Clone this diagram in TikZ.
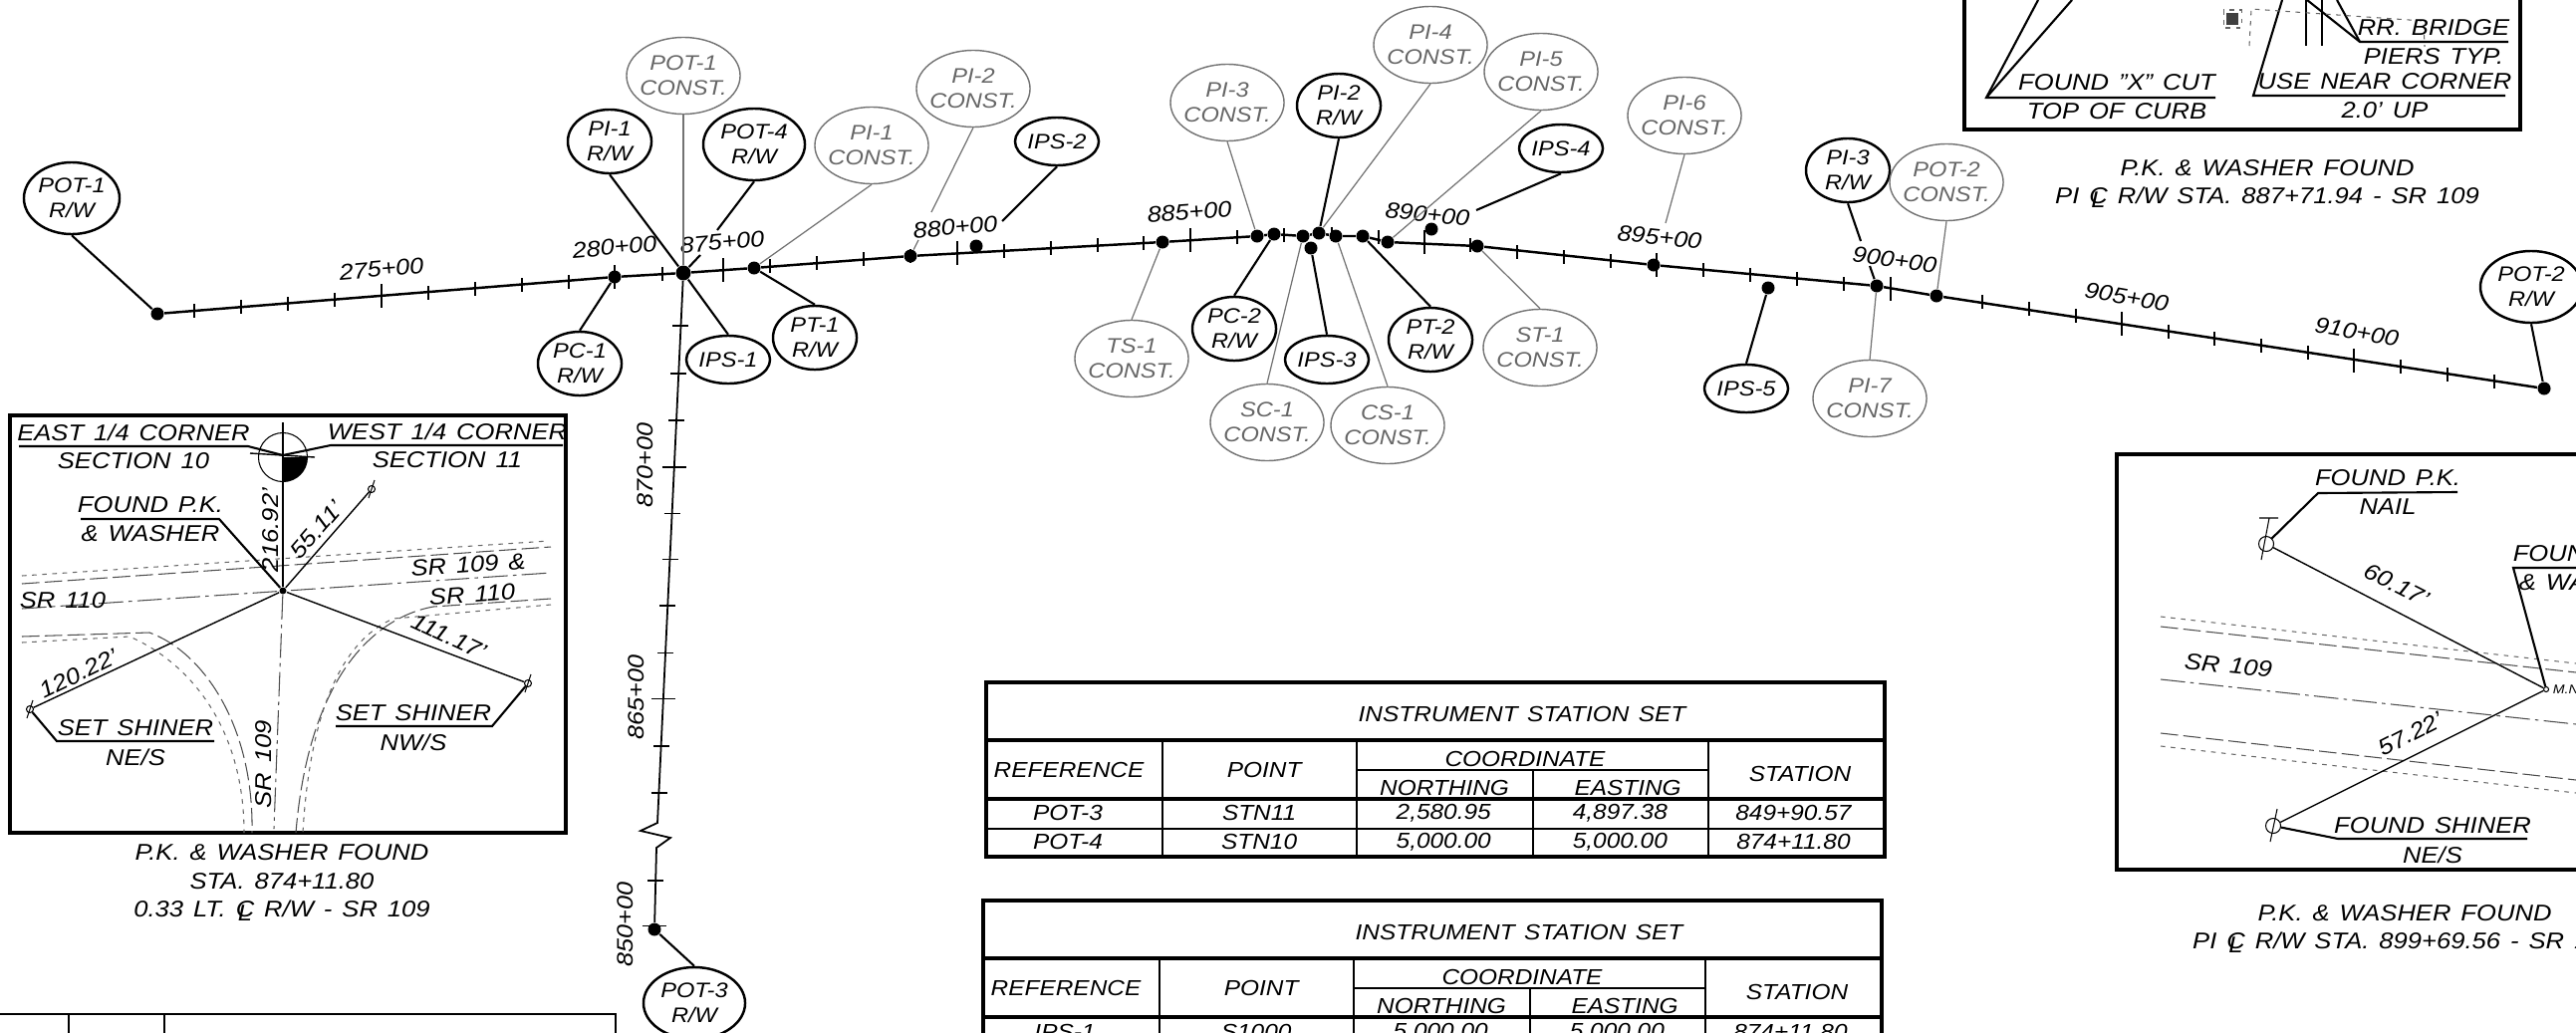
\documentclass[tikz,border=0pt]{standalone}
\usepackage{fontspec}
\setmainfont[FakeStretch=1.12,WordSpace=1.4]{Liberation Sans}
\usetikzlibrary{shapes.geometric,positioning}
\newcommand{\clmark}{\ooalign{C\cr\hfil\raisebox{-.3ex}{L}\hfil\cr}}

\begin{document}
\begin{tikzpicture}[x=0.01cm,y=-0.01cm,node distance=0.29cm,
    every node/.style={inner sep=0pt,align=center,font=\itshape\fontsize{6}{7.1}\selectfont},
    bubble/.style={draw,ellipse,inner sep=-7pt},
    rwbub/.style={bubble,line width=.7pt,minimum width=.84cm,minimum height=.64cm},
    potbub/.style={bubble,line width=.7pt,minimum width=1.02cm,minimum height=.72cm},
    ipsbub/.style={bubble,line width=.7pt,minimum width=.84cm,minimum height=.48cm},
    constbub/.style={bubble,draw=black!55,text=black!60,line width=.4pt,minimum width=1.14cm,minimum height=.77cm},
    stake/.style={circle,fill,minimum size=.13cm},
    leader/.style={line width=.6pt},
    constleader/.style={line width=.35pt,black!55},
    mainline/.style={line width=.7pt},
    staplus/.style={font=\itshape\fontsize{6.4}{7}\selectfont},
    boxtext/.style={font=\itshape\fontsize{6.5}{7.5}\selectfont},
    tabtext/.style={font=\itshape\fontsize{6.2}{7}\selectfont},
    roaddash/.style={line width=.3pt,black!70,dash pattern=on 5pt off 1.5pt},
    roaddot/.style={line width=.3pt,black!60,dash pattern=on 1.3pt off 1.6pt},
    roadcenter/.style={line width=.3pt,black!70,dash pattern=on 7pt off 1.5pt on 1pt off 1.5pt},
    shiner/.style={draw,circle,line width=.3pt,minimum size=.07cm},
    frame/.style={line width=1pt}]
      \useasboundingbox (0,0) rectangle (2586,1036);
      \clip (0,0) rectangle (2586,1036);

      % stakes on the line
      \node[stake] (dPOT1r) at (158,315) {};
      \node[stake] (d280) at (617,278) {};
      \node[stake,minimum size=.15cm] (d875) at (686,274) {};
      \node[stake] (dPT1) at (757,269) {};
      \node[stake] (dPI2c) at (914,257) {};
      \node[stake] (dIPS2) at (980,247) {};
      \node[stake] (dTS1) at (1167,243) {};
      \node[stake] (dPI3c) at (1262,237) {};
      \node[stake] (dPC2) at (1279,235) {};
      \node[stake] (dSC1) at (1308,237) {};
      \node[stake] (dPI2r) at (1324,234) {};
      \node[stake] (dCS1) at (1341,237) {};
      \node[stake] (dPT2) at (1368,237) {};
      \node[stake] (dPI5c) at (1393,243) {};
      \node[stake] (dST1) at (1483,247) {};
      \node[stake] (dPI6c) at (1660,266) {};
      \node[stake] (dPI3r) at (1884,287) {};
      \node[stake] (dPOT2c) at (1944,297) {};
      \node[stake] (dPOT2r) at (2554,390) {};
      \node[stake] (dIPS3) at (1316,249) {};
      \node[stake] (dIPS4) at (1437,230) {};
      \node[stake] (dIPS5) at (1775,289) {};
      \node[stake] (dPOT3r) at (657,933) {};

      \coordinate (zigA) at (660,826);
      \coordinate (zigB) at (643,834);
      \coordinate (zigC) at (673,841);
      \coordinate (zigD) at (659,851);

      \draw[mainline] (dPOT1r) -- (d280) -- (d875) -- (dPT1) -- (dPI2c) -- (dTS1) -- (dPI3c) -- (dPC2) -- (dSC1)
        -- (dPI2r) -- (dCS1) -- (dPT2) -- (dPI5c) -- (dST1) -- (dPI6c) -- (dPI3r) -- (dPOT2c) -- (dPOT2r);
      \draw[line width=.5pt] (d875) -- (zigA) -- (zigB) -- (zigC) -- (zigD) -- (dPOT3r);

      \foreach \x/\y in {195/312,242/308,289/305,336/301,430/294,477/290,524/286,571/283,665/275,
        773/267,820/264,867/260,914/257,1008/252,1055/249,1102/246,1148/244,1242/238,1289/236,1337/235,1384/238,
        1476/246,1523/253,1570/258,1617/262,1710/271,1757/276,1804/280,1851/285,
        1990/303,2037/310,2084/317,2177/333,2223/340,2270/347,2317/354,2410/368,2457/376,2504/383}
        \draw[line width=.4pt] (\x,\y-7) -- (\x,\y+7);
      \foreach \x/\y in {383/297,617/278,726/271,961/254,1195/241,1430/243,1663/266,1898/290,2130/325,2363/362}
        \draw[line width=.4pt] (\x,\y-12) -- (\x,\y+12);
      \foreach \x/\y in {683/327,681/375,679/422,674.7/515.6,672.7/561.5,670/608,668/655.6,664/749,661.7/796,658/884}
        \draw[line width=.4pt] (\x-8,\y) -- (\x+8,\y);
      \foreach \x/\y in {676.7/469,666/701.4,656.7/929.4}
        \draw[line width=.4pt] (\x-12,\y) -- (\x+12,\y);

      \node[staplus,rotate=5] (sta275) at (383,270) {275+00};
      \node[staplus,rotate=5] (sta280) at (617,248) {280+00};
      \node[staplus,rotate=5] (sta875) at (725,243) {875+00};
      \node[staplus,rotate=5] (sta880) at (959,228) {880+00};
      \node[staplus,rotate=4] (sta885) at (1194,213) {885+00};
      \node[staplus,rotate=-6] (sta890) at (1433,215) {890+00};
      \node[staplus,rotate=-6] (sta895) at (1666,238) {895+00};
      \node[staplus,rotate=-8] (sta900) at (1902,261) {900+00};
      \node[staplus,rotate=-10] (sta905) at (2135,298) {905+00};
      \node[staplus,rotate=-10] (sta910) at (2366,333) {910+00};
      \node[staplus,rotate=90] (sta870) at (648,467) {870+00};
      \node[staplus,rotate=90] (sta865) at (639,700) {865+00};
      \node[staplus,rotate=90] (sta850) at (628,928) {850+00};

      % bubbles above the line
      \node[rwbub,minimum width=.96cm,minimum height=.72cm] (POT1r) at (72,199) {POT-1\\R/W};
      \node[constbub] (POT1c) at (686,76) {POT-1\\CONST.};
      \node[rwbub] (PI1r) at (612,142) {PI-1\\R/W};
      \node[potbub] (POT4r) at (757,145) {POT-4\\R/W};
      \node[constbub] (PI1c) at (875,146) {PI-1\\CONST.};
      \node[constbub] (PI2c) at (977,89) {PI-2\\CONST.};
      \node[ipsbub] (IPS2) at (1061,142) {IPS-2};
      \node[constbub] (PI3c) at (1232,103) {PI-3\\CONST.};
      \node[rwbub] (PI2r) at (1344,106) {PI-2\\R/W};
      \node[constbub] (PI4c) at (1436,45) {PI-4\\CONST.};
      \node[constbub] (PI5c) at (1547,72) {PI-5\\CONST.};
      \node[ipsbub] (IPS4) at (1567,149) {IPS-4};
      \node[constbub] (PI6c) at (1691,116) {PI-6\\CONST.};
      \node[rwbub] (PI3r) at (1855,171) {PI-3\\R/W};
      \node[constbub] (POT2c) at (1954,183) {POT-2\\CONST.};
      \node[potbub] (POT2r) at (2541,288) {POT-2\\R/W};

      % and below it
      \node[rwbub] (PC1r) at (582,365) {PC-1\\R/W};
      \node[ipsbub] (IPS1) at (731,361) {IPS-1};
      \node[rwbub] (PT1r) at (818,339) {PT-1\\R/W};
      \node[constbub] (TS1c) at (1136,360) {TS-1\\CONST.};
      \node[rwbub] (PC2r) at (1239,330) {PC-2\\R/W};
      \node[ipsbub] (IPS3) at (1332,361) {IPS-3};
      \node[constbub] (SC1c) at (1272,424) {SC-1\\CONST.};
      \node[constbub] (CS1c) at (1393,427) {CS-1\\CONST.};
      \node[rwbub] (PT2r) at (1436,341) {PT-2\\R/W};
      \node[constbub] (ST1c) at (1546,349) {ST-1\\CONST.};
      \node[ipsbub] (IPS5) at (1753,390) {IPS-5};
      \node[constbub] (PI7c) at (1877,400) {PI-7\\CONST.};
      \node[potbub] (POT3r) at (697,1007) {POT-3\\R/W};

      \coordinate (endPOT4) at (720,231);
      \coordinate (midPOT4) at (703,256);
      \coordinate (endPI2c) at (935,213);
      \coordinate (midPI2c) at (922,241);
      \coordinate (endIPS2) at (1006,222);
      \coordinate (endIPS4) at (1482,211);
      \coordinate (endPI6c) at (1672,224);
      \coordinate (endPI3r) at (1868,242);
      \coordinate (midPI3r) at (1877,267);

      \draw[leader] (POT1r.south) -- (dPOT1r);
      \draw[leader] (PI1r.south) -- (d875);
      \draw[leader] (POT4r.south) -- (endPOT4);
      \draw[leader] (midPOT4) -- (d875);
      \draw[leader] (IPS2.south) -- (endIPS2);
      \draw[leader] (PI2r.south) -- (dPI2r);
      \draw[leader] (IPS4.south) -- (endIPS4);
      \draw[leader] (PI3r.south) -- (endPI3r);
      \draw[leader] (midPI3r) -- (dPI3r);
      \draw[leader] (POT2r.south) -- (dPOT2r);
      \draw[leader] (PC1r.north) -- (d280);
      \draw[leader] (IPS1.north) -- (d875);
      \draw[leader] (PT1r.north) -- (dPT1);
      \draw[leader] (PC2r.north) -- (dPC2);
      \draw[leader] (IPS3.north) -- (dIPS3);
      \draw[leader] (PT2r.north) -- (dPT2);
      \draw[leader] (IPS5.north) -- (dIPS5);
      \draw[leader] (POT3r.north) -- (dPOT3r);

      \draw[constleader] (POT1c.south) -- (d875);
      \draw[constleader] (PI1c.south) -- (dPT1);
      \draw[constleader] (PI2c.south) -- (endPI2c);
      \draw[constleader] (midPI2c) -- (dPI2c);
      \draw[constleader] (PI3c.south) -- (dPI3c);
      \draw[constleader] (PI4c.south) -- (dPI2r);
      \draw[constleader] (PI5c.south) -- (dPI5c);
      \draw[constleader] (PI6c.south) -- (endPI6c);
      \draw[constleader] (POT2c.south) -- (dPOT2c);
      \draw[constleader] (TS1c.north) -- (dTS1);
      \draw[constleader] (SC1c.north) -- (dSC1);
      \draw[constleader] (CS1c.north) -- (dCS1);
      \draw[constleader] (ST1c.north) -- (dST1);
      \draw[constleader] (PI7c.north) -- (dPI3r);

      % left inset
      \draw[frame] (10,417) rectangle (568,836);
      \draw[roaddot] (22,578) -- (551,543);
      \draw[roaddash] (22,586) -- (553,549);
      \draw[roadcenter] (22,611) -- (553,575);
      \draw[roaddash] (553,601) -- (435,609) .. controls (375,620) and (310,680) .. (297,836);
      \draw[roaddot] (553,607) -- (395,621) .. controls (350,640) and (312,700) .. (304,836);
      \draw[roaddash] (22,639) -- (150,635) .. controls (205,655) and (255,730) .. (253,836);
      \draw[roaddot] (22,645) -- (130,639) .. controls (190,665) and (245,730) .. (245,836);

      \node[shiner] (shinerNE) at (30,712) {};
      \node[shiner] (shinerNW) at (530,686) {};
      \node[shiner] (shinerUp) at (373,491) {};
      \node[stake,minimum size=.07cm] (pkOne) at (284,593) {};
      \coordinate (crossTop) at (284,424);
      \coordinate (crossBot) at (275,832);
      \coordinate (crossW) at (251,455);
      \coordinate (crossE) at (316,459);
      \coordinate (eastKnee) at (249,448);
      \coordinate (westKnee) at (332,447);
      \coordinate (corner) at (284,457);

      \draw[line width=.3pt] (284,459) circle [radius=.245cm];
      \fill (284,459) -- ++(.245cm,0) arc [start angle=0,end angle=-90,radius=.245cm] -- cycle;
      \draw[line width=.4pt] (crossTop) -- (pkOne);
      \draw[line width=.4pt] (crossW) -- (crossE);
      \draw[roadcenter] (pkOne) -- (crossBot);
      \draw[line width=.4pt] (pkOne) -- (shinerNE);
      \draw[line width=.4pt] (pkOne) -- (shinerNW);
      \draw[line width=.4pt] (pkOne) -- (shinerUp);
      \draw[line width=.3pt] (33,703) -- (27,721) (533,677) -- (527,695) (376,482) -- (370,500);

      \node[boxtext] (east) at (134,434) {EAST 1/4 CORNER};
      \node[boxtext,below of=east] (sec10) {SECTION 10};
      \node[boxtext] (west) at (449,433) {WEST 1/4 CORNER};
      \node[boxtext,below of=west] (sec11) {SECTION 11};
      \draw[leader] (19,448) -- (eastKnee) -- (corner) -- (westKnee) -- (565,447);

      \node[boxtext] (foundpk) at (151,507) {FOUND P.K.};
      \node[boxtext,below of=foundpk] (washer) {\& WASHER};
      \draw[leader] (81,521) -- (220,521) -- (pkOne);

      \node[boxtext] (setNE) at (136,731) {SET SHINER};
      \node[boxtext,below of=setNE] (textNE) {NE/S};
      \draw[leader] (shinerNE) -- (57,744) -- (215,744);
      \node[boxtext] (setNW) at (415,716) {SET SHINER};
      \node[boxtext,below of=setNW] (textNW) {NW/S};
      \draw[leader] (337,729) -- (494,729) -- (shinerNW);

      \node[boxtext,rotate=90] (d216) at (272,532) {216.92'};
      \node[boxtext,rotate=49] (d55) at (318,532) {55.11'};
      \node[boxtext,rotate=26] (d120) at (79,676) {120.22'};
      \node[boxtext,rotate=-25] (d111) at (451,639) {111.17'};
      \node[boxtext] (srA) at (63,603) {SR 110};
      \node[boxtext,rotate=4] (srB) at (470,567) {SR 109 \&};
      \node[boxtext,rotate=4] (srC) at (474,597) {SR 110};
      \node[boxtext,rotate=90] (srD) at (265,767) {SR 109};

      \node[boxtext] (capA) at (283,856) {P.K. \& WASHER FOUND};
      \node[boxtext,below of=capA] (capB) {STA. 874+11.80};
      \node[boxtext,below of=capB] (capC) {0.33 LT. \clmark{} R/W - SR 109};

      % top right inset, cut by the sheet
      \draw[frame] (1972,-20) rectangle (2530,130);
      \coordinate (cutKnee) at (1994,98);
      \coordinate (nearKnee) at (2262,96);
      \coordinate (bridgeKnee) at (2369,42);
      \draw[leader] (2046,0) -- (cutKnee) -- (2224,98);
      \draw[leader] (2080,0) -- (cutKnee);
      \draw[leader] (2291,0) -- (nearKnee) -- (2515,96);
      \draw[leader] (2316,0) -- (bridgeKnee) -- (2518,42);
      \draw[leader] (2346,0) -- (bridgeKnee);
      \draw[leader] (2315,0) -- (2315,46);
      \draw[leader] (2331,0) -- (2331,46);
      \draw[roaddot] (2258,46) -- (2260,9) -- (2433,21) -- (2434,47);
      \fill[black!75] (2235,13) rectangle (2247,25);
      \draw[roaddot] (2232,10) rectangle (2250,28);

      \node[boxtext] (foundX) at (2125,83) {FOUND "X" CUT};
      \node[boxtext,below of=foundX] (curb) {TOP OF CURB};
      \node[boxtext] (bridge) at (2443,28) {RR. BRIDGE};
      \node[boxtext,below of=bridge] (piers) {PIERS TYP.};
      \node[boxtext] (useNear) at (2394,82) {USE NEAR CORNER};
      \node[boxtext,below of=useNear] (up) {2.0' UP};
      \node[boxtext] (capD) at (2276,169) {P.K. \& WASHER FOUND};
      \node[boxtext,below of=capD] (capE) {PI \clmark{} R/W STA. 887+71.94 - SR 109};

      % right inset
      \draw[frame] (2125,456) rectangle (2600,873);
      \draw[roaddot] (2169,619) -- (2586,666);
      \draw[roaddash] (2169,629) -- (2586,675);
      \draw[roadcenter] (2169,682) -- (2586,727);
      \draw[roaddash] (2169,736) -- (2586,783);
      \draw[roaddot] (2169,749) -- (2586,796);

      \node[shiner,minimum size=.15cm] (nail) at (2275,546) {};
      \node[shiner,minimum size=.15cm] (shinerR) at (2282,829) {};
      \node[shiner,minimum size=.05cm] (manhole) at (2556,692) {};
      \node[font=\itshape\fontsize{3.6}{4}\selectfont,right=.03cm of manhole] (mn) {M.N.};
      \draw[line width=.4pt] (nail) -- (manhole);
      \draw[line width=.4pt] (shinerR) -- (manhole);
      \draw[line width=.3pt] (2268,520) -- (2287,520) (2278,520) -- (2270,562);
      \draw[line width=.3pt] (2286,812) -- (2279,845);

      \node[boxtext] (nailA) at (2397,480) {FOUND P.K.};
      \node[boxtext,below of=nailA] (nailB) {NAIL};
      \draw[leader] (nail) -- (2327,495) -- (2467,494);
      \node[boxtext,anchor=west] (mhA) at (2522,556) {FOUND P.K.};
      \node[boxtext,anchor=west] (mhB) at (2528,585) {\& WASHER};
      \draw[leader] (manhole) -- (2523,570) -- (2600,570);
      \node[boxtext] (foundS) at (2442,829) {FOUND SHINER};
      \node[boxtext,below of=foundS] (foundNE) {NE/S};
      \draw[leader] (shinerR) -- (2347,842) -- (2537,842);

      \node[boxtext,rotate=-27] (d60) at (2406,587) {60.17'};
      \node[boxtext,rotate=27] (d57) at (2420,737) {57.22'};
      \node[boxtext,rotate=-6] (srE) at (2237,668) {SR 109};
      \node[boxtext] (capF) at (2414,917) {P.K. \& WASHER FOUND};
      \node[boxtext,below of=capF] (capG) {PI \clmark{} R/W STA. 899+69.56 - SR 109};

      % the two station tables
      \foreach \dx/\dy/\tab in {0/0/A,-3/219/B} {
        \begin{scope}[shift={(\dx,\dy)}]
          \draw[frame] (990,685) rectangle (1892,860);
          \draw[frame] (990,743) -- (1892,743);
          \draw[frame] (990,802) -- (1892,802);
          \draw[line width=.6pt] (990,832) -- (1892,832);
          \draw[line width=.8pt] (1362,773) -- (1715,773);
          \draw[line width=.6pt] (1167,743) -- (1167,860);
          \draw[line width=.6pt] (1362,743) -- (1362,860);
          \draw[line width=.6pt] (1539,773) -- (1539,860);
          \draw[line width=.6pt] (1715,743) -- (1715,860);
          \node[tabtext] (title\tab) at (1528,717) {INSTRUMENT STATION SET};
          \node[tabtext] (ref\tab) at (1073,773) {REFERENCE};
          \node[tabtext,right of=ref\tab,node distance=1.96cm] (point\tab) {POINT};
          \node[tabtext] (coord\tab) at (1531,762) {COORDINATE};
          \node[tabtext] (north\tab) at (1450,791) {NORTHING};
          \node[tabtext,right of=north\tab,node distance=1.84cm] (east\tab) {EASTING};
          \node[tabtext] (station\tab) at (1807,777) {STATION};
        \end{scope}
      }

      \node[tabtext] (pot3) at (1072,816) {POT-3};
      \node[tabtext,right of=pot3,node distance=1.92cm] (stn11) {STN11};
      \node[tabtext,right of=stn11,node distance=1.85cm] (north3) {2,580.95};
      \node[tabtext,right of=north3,node distance=1.77cm] (east3) {4,897.38};
      \node[tabtext,right of=east3,node distance=1.74cm] (sta3) {849+90.57};

      \node[tabtext,below of=pot3] (pot4) {POT-4};
      \node[tabtext,right of=pot4,node distance=1.92cm] (stn10) {STN10};
      \node[tabtext,right of=stn10,node distance=1.85cm] (north4) {5,000.00};
      \node[tabtext,right of=north4,node distance=1.77cm] (east4) {5,000.00};
      \node[tabtext,right of=east4,node distance=1.74cm] (sta4) {874+11.80};

      \node[tabtext] (ips1row) at (1069,1036) {IPS-1};
      \node[tabtext,right of=ips1row,node distance=1.92cm] (s1000) {S1000};
      \node[tabtext,right of=s1000,node distance=1.85cm] (north5) {5,000.00};
      \node[tabtext,right of=north5,node distance=1.77cm] (east5) {5,000.00};
      \node[tabtext,right of=east5,node distance=1.74cm] (sta5) {874+11.80};

      % table at the foot of the sheet
      \draw[line width=.6pt] (0,1018) -- (618,1018) -- (618,1040);
      \draw[line width=.6pt] (69,1018) -- (69,1040);
      \draw[line width=.6pt] (165,1018) -- (165,1040);
    \end{tikzpicture}
\end{document}
